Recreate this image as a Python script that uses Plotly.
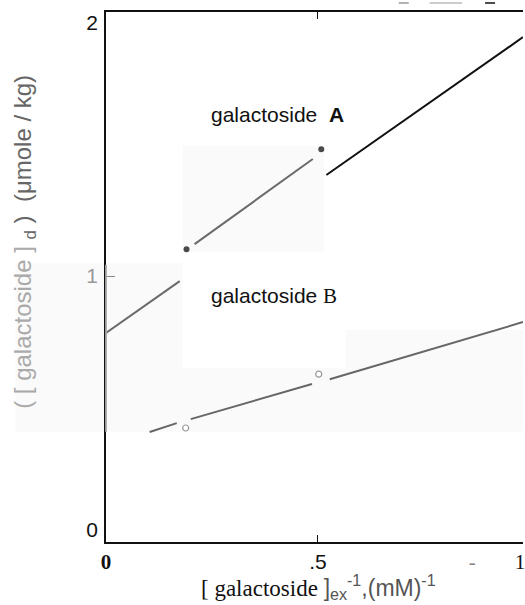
import plotly.graph_objects as go

# ---- data ----
a_pts_x = [0.19, 0.508]
a_pts_y = [1.106, 1.50]
a_low_x = [0.0, 0.174]
a_low_y = [0.776, 0.980]
a_mid_x = [0.209, 0.488]
a_mid_y = [1.126, 1.461]
a_up_x = [0.52, 0.984]
a_up_y = [1.398, 1.941]

b_pts_x = [0.188, 0.502]
b_pts_y = [0.402, 0.614]
b_low_x = [0.103, 0.167]
b_low_y = [0.386, 0.421]
b_mid_x = [0.20, 0.486]
b_mid_y = [0.437, 0.575]
b_up_x = [0.528, 0.984]
b_up_y = [0.594, 0.819]

x_tick_vals = [0, 0.5, 0.864, 0.977]
x_tick_text = ["<b>0</b>", "<span style='font-family:Liberation Sans'>.5</span>",
               "<span style='fill:#888'>-</span>", "1"]
y_tick_vals = [0, 1, 2]
y_tick_text = ["0", "<span style='fill:#999'>1</span>", "2"]

fig = go.Figure()

def seg(xs, ys, color, width=2):
    fig.add_trace(go.Scatter(x=xs, y=ys, mode="lines",
                             line=dict(color=color, width=width),
                             hoverinfo="skip", showlegend=False))

seg(a_low_x, a_low_y, "#6a6a6a")
seg(a_mid_x, a_mid_y, "#6a6a6a")
seg(a_up_x, a_up_y, "#111111")
seg(b_low_x, b_low_y, "#666666")
seg(b_mid_x, b_mid_y, "#666666")
seg(b_up_x, b_up_y, "#666666")

fig.add_trace(go.Scatter(x=a_pts_x, y=a_pts_y, mode="markers",
                         marker=dict(color="#4a4a4a", size=6),
                         showlegend=False))
fig.add_trace(go.Scatter(x=b_pts_x, y=b_pts_y, mode="markers",
                         marker=dict(color="white", size=6,
                                     line=dict(color="#999999", width=1.2)),
                         showlegend=False))
# invisible trace so that the label-only overlay axes are drawn
fig.add_trace(go.Scatter(x=[x_tick_vals[0]], y=[y_tick_vals[0]], xaxis="x2", yaxis="y2",
                         mode="markers", marker=dict(opacity=0),
                         hoverinfo="skip", showlegend=False))

xr = [0, 0.984]
yr = [-0.047, 2.04]

fig.update_layout(
    width=525, height=605,
    margin=dict(l=106, r=0, t=12, b=63),
    paper_bgcolor="white", plot_bgcolor="rgba(0,0,0,0)",
    showlegend=False,
    xaxis=dict(range=xr, showgrid=False, zeroline=False, showline=True,
               linecolor="#111", linewidth=1.6, mirror="ticks",
               tickvals=[0.5], ticks="inside", ticklen=7, tickwidth=1.3,
               tickcolor="#111", showticklabels=False),
    xaxis2=dict(range=xr, overlaying="x", anchor="y2", side="bottom",
                showgrid=False, zeroline=False, showline=False,
                tickvals=x_tick_vals, ticktext=x_tick_text, ticks="",
                ticklabelstandoff=5, ticklabeloverflow="allow",
                tickfont=dict(family="Liberation Serif", size=21, color="#111")),
    yaxis=dict(range=yr, showgrid=False, zeroline=False, showline=True,
               linecolor="#111", linewidth=1.6,
               tickvals=[1], ticks="inside", ticklen=9, tickwidth=1.2,
               tickcolor="#888", showticklabels=False),
    yaxis2=dict(range=yr, overlaying="y", anchor="x2", side="left",
                showgrid=False, zeroline=False, showline=False,
                tickvals=y_tick_vals, ticktext=y_tick_text, ticks="",
                ticklabelstandoff=7,
                tickfont=dict(family="Liberation Sans", size=21, color="#111")),
)

# faint scanned-paste patches
patches = [
    (0.184, 0.523, 0.547, 0.747),
    (-0.217, 0.184, 0.208, 0.526),
    (0.184, 1.0, 0.208, 0.328),
    (0.575, 1.0, 0.328, 0.40),
]
for x0, x1, y0, y1 in patches:
    fig.add_shape(type="rect", xref="paper", yref="paper", x0=x0, x1=x1,
                  y0=y0, y1=y1, fillcolor="#fafafa", line=dict(width=0),
                  layer="below")
# lighter section of the left axis
fig.add_shape(type="line", xref="paper", yref="paper", x0=0, x1=0,
              y0=0.208, y1=0.523, line=dict(color="#a8a8a8", width=1.8),
              layer="above")
# small marks above the frame
for x0, x1, c in [(0.702, 0.726, "#999"), (0.776, 0.854, "#bbb"), (0.909, 0.933, "#111")]:
    fig.add_shape(type="line", xref="paper", yref="paper", x0=x0, x1=x1,
                  y0=1.017, y1=1.017, line=dict(color=c, width=1.5),
                  layer="above")

fig.add_annotation(xref="paper", yref="paper", x=0.246, y=0.806,
                   xanchor="left", yanchor="middle", showarrow=False,
                   text="galactoside&nbsp;&nbsp;<span style='font-family:Liberation Sans;font-weight:bold'>A</span>",
                   font=dict(family="Liberation Sans", size=21, color="#111"))
fig.add_annotation(xref="paper", yref="paper", x=0.246, y=0.464,
                   xanchor="left", yanchor="middle", showarrow=False,
                   text="galactoside&nbsp;<span style='font-family:Liberation Serif'>B</span>",
                   font=dict(family="Liberation Sans", size=21, color="#111"))
fig.add_annotation(xref="paper", yref="paper", x=-0.197, y=0.566,
                   xanchor="center", yanchor="middle", showarrow=False,
                   textangle=-90,
                   text="<span style='fill:#aaaaaa'>( [ galactoside ]</span> <sub>d</sub> )  (μmole / kg)",
                   font=dict(family="Liberation Sans", size=24, color="#666"))
fig.add_annotation(xref="paper", yref="paper", x=0.51, y=-0.085,
                   xanchor="center", yanchor="middle", showarrow=False,
                   text="<span style='font-family:Liberation Serif;fill:#111'>[ galactoside </span>]<sub>ex</sub><sup>-1</sup>,(mM)<sup>-1</sup>",
                   font=dict(family="Liberation Sans", size=23, color="#555"))

fig.write_html("out.html")
